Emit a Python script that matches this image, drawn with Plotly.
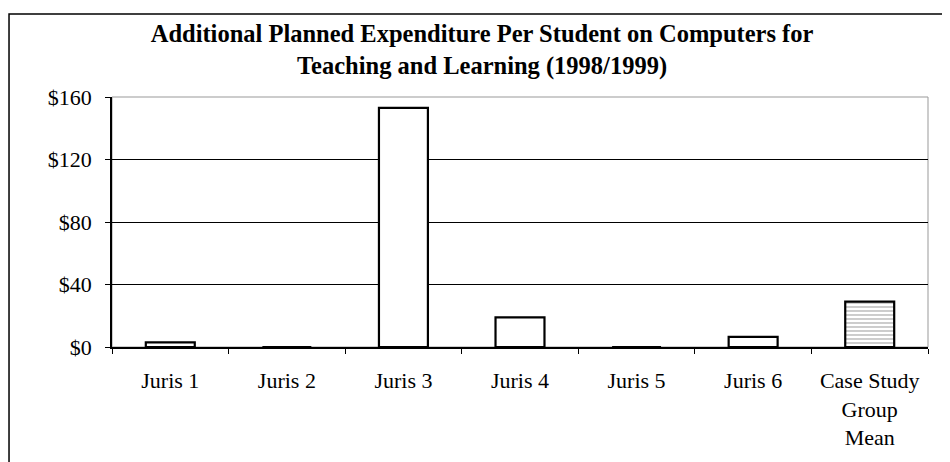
import plotly.graph_objects as go

categories = ["Juris 1", "Juris 2", "Juris 3", "Juris 4", "Juris 5", "Juris 6", "Case Study<br>Group<br>Mean"]
values = [3, 0, 153, 19, 0, 6.5, 29]
patterns = ["", "", "", "", "", "", "-"]
tick_vals = [0, 40, 80, 120, 160]
tick_text = ["$0", "$40", "$80", "$120", "$160"]
title_text = "<b>Additional Planned Expenditure Per Student on Computers for<br>Teaching and Learning (1998/1999)</b>"

fig = go.Figure()
fig.add_trace(go.Bar(
    x=categories, y=values, width=0.42,
    marker=dict(color="white", line=dict(color="black", width=2.2),
                pattern=dict(shape=patterns, fgcolor="#555", bgcolor="white", size=4, solidity=0.3)),
    hoverinfo="x+y",
))

font = "Liberation Serif, Times New Roman, serif"
fig.update_layout(
    width=950, height=462,
    margin=dict(l=104, r=30, t=89, b=123, autoexpand=False),
    paper_bgcolor="white", plot_bgcolor="white",
    showlegend=False,
    font=dict(family=font, size=22, color="black"),
    title=dict(text=title_text, x=0.499, xanchor="center", y=0.927, yanchor="top",
               font=dict(family=font, size=24.5, color="black")),
)
fig.update_xaxes(showline=True, linecolor="black", linewidth=1.5, ticks="outside",
                 tickson="boundaries", ticklen=5, tickcolor="black", showgrid=False,
                 tickfont=dict(size=22), automargin=False, ticklabelstandoff=13)
fig.update_yaxes(range=[0, 160], tickvals=tick_vals, ticktext=tick_text, showline=True,
                 linecolor="black", linewidth=1.5, ticks="outside", ticklen=5, tickcolor="black",
                 gridcolor="black", gridwidth=1, zeroline=False, tickfont=dict(size=22),
                 ticklabelstandoff=9, automargin=False)
# plot area border (gray) and outer frame
fig.add_shape(type="rect", xref="paper", yref="paper", x0=0, y0=0, x1=1, y1=1,
              line=dict(color="#999", width=1), layer="below")
fig.add_shape(type="rect", xref="paper", yref="paper", x0=-0.1262, y0=-0.6, x1=1.1, y1=1.332,
              line=dict(color="black", width=1.5))
fig.write_html("out.html")
